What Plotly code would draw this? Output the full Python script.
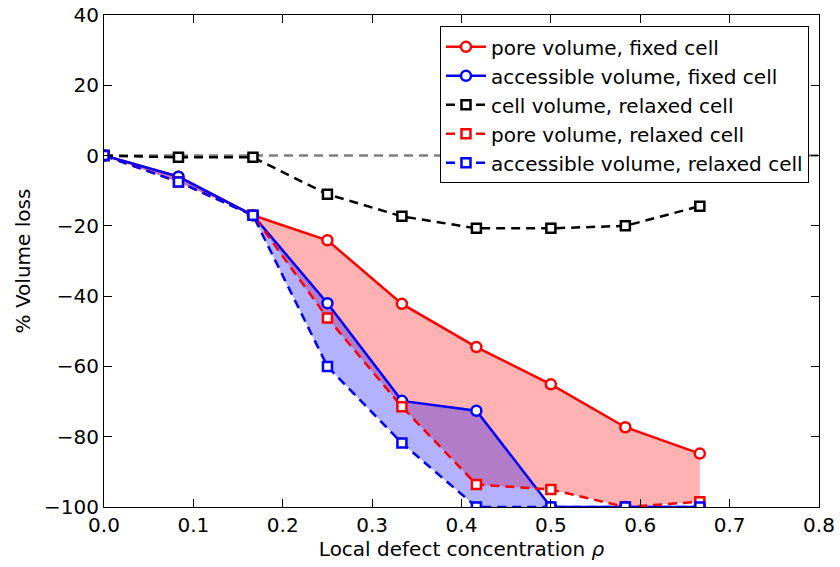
import plotly.graph_objects as go

# Local defect concentration (multiples of 1/12)
rho = [0.0, 1/12, 2/12, 3/12, 4/12, 5/12, 6/12, 7/12, 8/12]

pore_fixed = [0.0, -6.0, -17.0, -24.1, -42.2, -54.5, -65.1, -77.3, -84.8]
access_fixed = [0.0, -6.0, -17.0, -42.0, -69.8, -72.6, -100.0, -100.0, -100.0]
cell_relaxed = [0.0, -0.5, -0.5, -11.0, -17.3, -20.7, -20.7, -20.0, -14.4]
pore_relaxed = [0.0, -7.5, -17.0, -46.2, -71.5, -93.6, -95.0, -100.0, -98.5]
access_relaxed = [0.0, -7.5, -17.0, -60.0, -81.8, -100.0, -100.0, -100.0, -100.0]

x_ticks = [0.0, 0.1, 0.2, 0.3, 0.4, 0.5, 0.6, 0.7, 0.8]
y_ticks = [40, 20, 0, -20, -40, -60, -80, -100]

FONT = "DejaVu Sans"
DASH = "9px,6px"

fig = go.Figure()

# shaded bands between fixed-cell and relaxed-cell curves
def band(upper, lower, color):
    fig.add_trace(go.Scatter(
        x=rho + rho[::-1], y=upper + lower[::-1],
        fill="toself", fillcolor=color, mode="none",
        showlegend=False, hoverinfo="skip"))

band(pore_fixed, pore_relaxed, "rgba(255,0,0,0.3)")
band(access_fixed, access_relaxed, "rgba(0,0,255,0.3)")

def series(y, name, color, symbol, dash):
    fig.add_trace(go.Scatter(
        x=rho, y=y, name=name, mode="lines+markers", legendgroup=name,
        line=dict(color=color, width=2.5, dash=dash),
        marker=dict(symbol=symbol, size=10 if symbol == "circle" else 9,
                    color="white", line=dict(color=color, width=2.5)),
    ))

series(pore_fixed, "pore volume, fixed cell", "#ff0000", "circle", "solid")
series(access_fixed, "accessible volume, fixed cell", "#0000ff", "circle", "solid")
series(cell_relaxed, "cell volume, relaxed cell", "#000000", "square", DASH)
series(pore_relaxed, "pore volume, relaxed cell", "#ff0000", "square", DASH)
series(access_relaxed, "accessible volume, relaxed cell", "#0000ff", "square", DASH)

# zero reference line
fig.add_shape(type="line", xref="paper", x0=0, x1=1, yref="y", y0=0, y1=0,
              line=dict(color="#808080", width=2.5, dash=DASH), layer="below")

axis_common = dict(
    showgrid=False, zeroline=False, showline=True, linecolor="black",
    linewidth=1, mirror="ticks", ticks="inside", ticklen=8, tickwidth=1,
    tickcolor="black", tickfont=dict(family=FONT, size=20, color="black"),
    automargin=False,
)

fig.update_xaxes(range=[0, 0.8], tickvals=x_ticks,
                 ticktext=[f"{v:.1f}" for v in x_ticks],
                 title=dict(text="Local defect concentration <i>ρ</i>",
                            font=dict(family=FONT, size=20, color="black"),
                            standoff=4),
                 **axis_common)
fig.update_yaxes(range=[-100, 40], tickvals=y_ticks,
                 title=dict(text="% Volume loss",
                            font=dict(family=FONT, size=20, color="black"),
                            standoff=8),
                 **axis_common)

fig.update_layout(
    width=840, height=567,
    margin=dict(l=104, r=21, t=15, b=60),
    plot_bgcolor="white", paper_bgcolor="white",
    font=dict(family=FONT, color="black"),
    legend=dict(x=0.986, y=0.977, xanchor="right", yanchor="top",
                bordercolor="black", borderwidth=1, bgcolor="white",
                font=dict(family=FONT, size=20, color="black"),
                itemwidth=40, tracegroupgap=0),
    showlegend=True,
)

fig.write_html("out.html")
